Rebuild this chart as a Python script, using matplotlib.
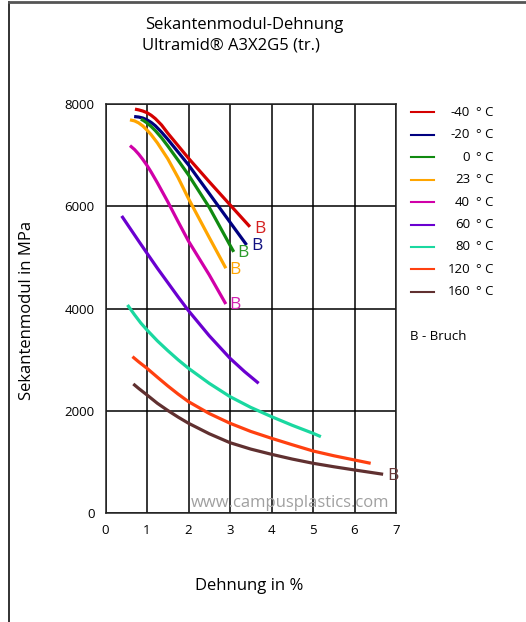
import matplotlib
matplotlib.use("Agg")
import matplotlib.pyplot as plt
from matplotlib.lines import Line2D

plt.rcParams['font.family'] = ['Open Sans', 'DejaVu Sans']

# Dehnung in %, Sekantenmodul in MPa
temps = ["-40", "-20", "0", "23", "40", "60", "80", "120", "160"]
colors = ["#d40000", "#000080", "#108a10", "#ffa500", "#d000a8",
          "#6a00d0", "#1ad8a0", "#ff4010", "#603030"]

x_m40 = [0.71, 0.8, 0.9, 1.0, 1.1, 1.2, 1.35, 1.5, 1.75, 2.0, 2.5, 3.0, 3.48]
y_m40 = [7900, 7885, 7862, 7830, 7780, 7715, 7590, 7430, 7185, 6940, 6480, 6030, 5600]
x_m20 = [0.69, 0.8, 0.9, 1.0, 1.1, 1.2, 1.35, 1.5, 1.75, 2.0, 2.5, 3.0, 3.4]
y_m20 = [7755, 7745, 7725, 7690, 7640, 7575, 7450, 7310, 7060, 6810, 6250, 5690, 5245]
x_0 = [0.85, 0.9, 1.0, 1.1, 1.2, 1.35, 1.5, 1.75, 2.0, 2.5, 3.0, 3.09]
y_0 = [7700, 7685, 7630, 7560, 7480, 7340, 7180, 6900, 6614, 5980, 5240, 5110]
x_23 = [0.59, 0.7, 0.8, 0.9, 1.0, 1.1, 1.25, 1.5, 1.75, 2.0, 2.5, 2.9]
y_23 = [7690, 7670, 7630, 7570, 7490, 7400, 7240, 6930, 6560, 6150, 5390, 4790]
x_40 = [0.59, 0.7, 0.8, 0.9, 1.0, 1.1, 1.25, 1.5, 1.75, 2.0, 2.5, 2.9]
y_40 = [7187, 7110, 7020, 6915, 6800, 6670, 6460, 6090, 5700, 5320, 4660, 4090]
x_60 = [0.39, 0.6, 0.8, 1.0, 1.25, 1.5, 1.75, 2.0, 2.5, 3.0, 3.35, 3.69]
y_60 = [5812, 5560, 5320, 5083, 4790, 4510, 4230, 3960, 3470, 3030, 2770, 2541]
x_80 = [0.53, 0.7, 0.85, 1.0, 1.25, 1.5, 1.75, 2.0, 2.5, 3.0, 3.5, 4.0, 4.5, 5.0, 5.19]
y_80 = [4072, 3880, 3720, 3583, 3370, 3180, 3000, 2834, 2540, 2280, 2070, 1889, 1720, 1564, 1498]
x_120 = [0.65, 0.8, 1.0, 1.25, 1.5, 1.75, 2.0, 2.5, 3.0, 3.5, 4.0, 4.5, 5.0, 5.5, 6.0, 6.39]
y_120 = [3062, 2960, 2834, 2660, 2490, 2330, 2182, 1950, 1760, 1600, 1466, 1340, 1218, 1125, 1042, 977]
x_160 = [0.67, 0.8, 1.0, 1.25, 1.5, 1.75, 2.0, 2.5, 3.0, 3.5, 4.0, 4.5, 5.0, 5.5, 6.0, 6.69]
y_160 = [2528, 2440, 2313, 2150, 2010, 1880, 1760, 1555, 1380, 1255, 1153, 1060, 978, 910, 847, 763]

xs = [x_m40, x_m20, x_0, x_23, x_40, x_60, x_80, x_120, x_160]
ys = [y_m40, y_m20, y_0, y_23, y_40, y_60, y_80, y_120, y_160]

# Bruch-Markierungen
b_x = [3.72, 3.65, 3.31, 3.12, 3.12, 6.92]
b_y = [5558, 5226, 5087, 4756, 4072, 730]
b_col = ["#d42020", "#101080", "#2a9a2a", "#ffa500", "#d020b0", "#6b3a3a"]

fig = plt.figure(figsize=(5.26, 6.22), dpi=100)
ax = fig.add_axes([105.5/526, 1-513.3/622, (396-105.5)/526, (513.3-104)/622])

for x, y, c in zip(xs, ys, colors):
	ax.plot(x, y, color=c, lw=2.3, solid_capstyle='butt', solid_joinstyle='round')

for x, y, c in zip(b_x, b_y, b_col):
	ax.text(x, y, "B", color=c, fontsize=12.5, ha='center', va='center')

ax.set_xlim(0, 7)
ax.set_ylim(0, 8000)
ax.set_xticks(range(0, 8))
ax.set_yticks([0, 2000, 4000, 6000, 8000])
ax.grid(True, color='black', lw=1.1)
ax.tick_params(length=0, labelsize=9.5, pad=8)
for s in ax.spines.values():
	s.set_color('#222222')
	s.set_linewidth(1.1)

ax.text(4.44, 210, "www.campusplastics.com", color='#a0a0a0', fontsize=12,
	ha='center', va='center')

ax.set_xlabel("Dehnung in %", fontsize=12)
ax.xaxis.set_label_coords((249-105.5)/(396-105.5), -(578-513.3)/(513.3-104))
ax.set_ylabel("Sekantenmodul in MPa", fontsize=12)
ax.yaxis.set_label_coords(-(105.5-35)/(396-105.5), (513.3-310)/(513.3-104))

fig.text(244/526, 1-25/622, "Sekantenmodul-Dehnung", fontsize=12, ha='center', va='center')
fig.text(231/526, 1-46/622, "Ultramid\u00ae A3X2G5 (tr.)", fontsize=12, ha='center', va='center')

# Legende
for i, (t, c) in enumerate(zip(temps, colors)):
	yy = 1 - (112.3 + 22.45*i)/622
	fig.add_artist(Line2D([411/526, 434/526], [yy, yy], color=c, lw=1.5))
	fig.text(470/526, yy, t, fontsize=9.5, ha='right', va='center')
	fig.text(476/526, yy, "\u00b0 C", fontsize=9.5, ha='left', va='center')
fig.text(410/526, 1-336/622, "B - Bruch", fontsize=9.5, ha='left', va='center')

# Rahmen
fig.add_artist(Line2D([9/526, 9/526], [0, 1-2/622], color='#222222', lw=1.3))
fig.add_artist(Line2D([9/526, 1], [1-2/622, 1-2/622], color='#555555', lw=2))

fig.savefig("out.png", dpi=100)
